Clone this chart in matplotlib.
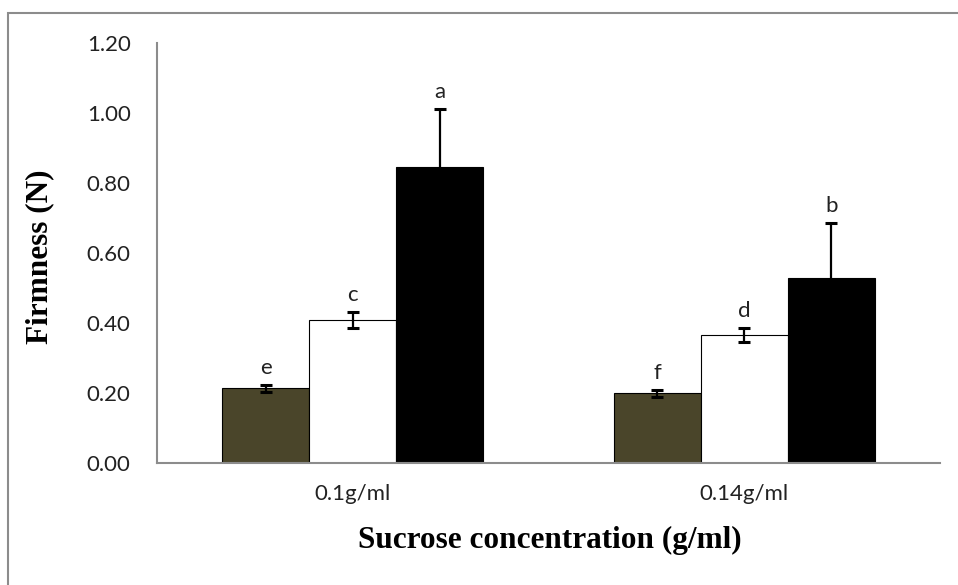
import numpy as np
import matplotlib.pyplot as plt
from matplotlib.patches import Rectangle

# data
categories = ['0.1g/ml', '0.14g/ml']
brown_vals = [0.214, 0.200]
white_vals = [0.409, 0.366]
black_vals = [0.846, 0.529]
brown_err = [0.010, 0.010]
white_err = [0.023, 0.020]
black_err = [0.165, 0.157]
brown_letters = ['e', 'f']
white_letters = ['c', 'd']
black_letters = ['a', 'b']

tick_font = 'Lato'
label_font = 'Liberation Serif'

fig = plt.figure(figsize=(9.58, 5.85), dpi=100)
ax = fig.add_axes([157 / 958, 1 - 463 / 585, (940 - 157) / 958, (463 - 43) / 585])

# outer chart border (only left and top visible in the crop)
fig.patches.append(Rectangle((8 / 958, -0.1), 1.2, 1 - 13 / 585 + 0.1,
                             transform=fig.transFigure, fill=False,
                             edgecolor='#8c8c8c', linewidth=1.5))

x = np.arange(len(categories))
w = 1 / 4.5
series = [
    (brown_vals, brown_err, brown_letters, '#4A452A', -w),
    (white_vals, white_err, white_letters, 'white', 0),
    (black_vals, black_err, black_letters, 'black', w),
]
for vals, errs, letters, color, off in series:
    ax.bar(x + off, vals, width=w, color=color, edgecolor='black', linewidth=0.8, zorder=2)
    ax.errorbar(x + off, vals, yerr=errs, fmt='none', ecolor='black',
                elinewidth=1.6, capsize=4.5, capthick=2.2, zorder=3)
    for xi, v, e, t in zip(x + off, vals, errs, letters):
        ax.annotate(t, (xi, v + e), xytext=(0, 5), textcoords='offset points',
                    ha='center', va='bottom', fontsize=16, family=tick_font, color='#222222')

ax.set_xlim(-0.5, 1.5)
ax.set_ylim(0, 1.2)
ax.set_yticks(np.arange(0, 1.21, 0.2))
ax.set_yticklabels([f'{v:.2f}' for v in np.arange(0, 1.21, 0.2)])
ax.set_xticks(x)
ax.set_xticklabels(categories)
ax.tick_params(axis='both', length=0, labelsize=16, colors='#222222')
ax.tick_params(axis='y', pad=19)
ax.tick_params(axis='x', pad=15)
for lab in ax.get_xticklabels() + ax.get_yticklabels():
    lab.set_family(tick_font)

for s in ['top', 'right']:
    ax.spines[s].set_visible(False)
for s in ['left', 'bottom']:
    ax.spines[s].set_color('#8c8c8c')
    ax.spines[s].set_linewidth(1.5)

fig.text(40 / 958, 1 - 257 / 585, 'Firmness (N)', rotation=90, ha='center', va='center',
         fontsize=22.5, fontweight='bold', family=label_font)
fig.text(550 / 958, 1 - 540 / 585, 'Sucrose concentration (g/ml)', ha='center', va='center',
         fontsize=22.5, fontweight='bold', family=label_font)

fig.savefig('out.png', dpi=100)
